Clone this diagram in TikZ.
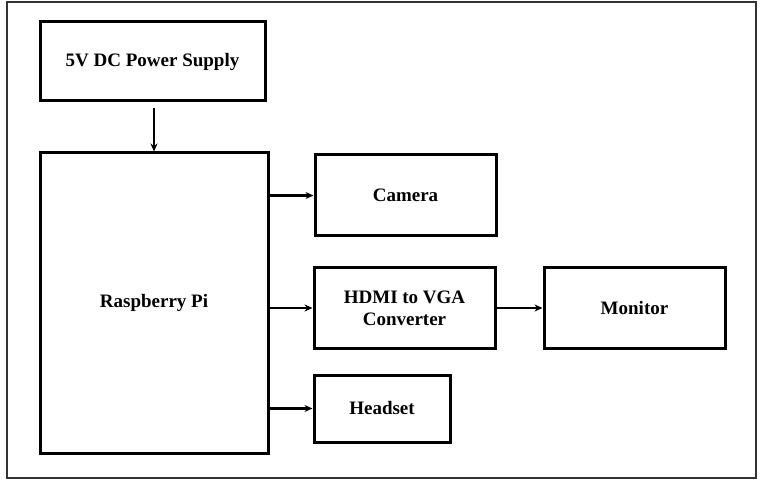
\documentclass[tikz,border=0pt]{standalone}
\usepackage{fontspec}
\setmainfont{Liberation Serif}
\usepackage{tikz}
\usetikzlibrary{positioning,arrows.meta}

\begin{document}
\begin{tikzpicture}[
  x=1pt, y=-1pt,
  >={Stealth[length=8pt,width=7pt]},
  box/.style={draw, line width=3pt, align=center, inner sep=0pt,
    font=\fontsize{19}{22}\selectfont\bfseries},
  link/.style={->, line width=2.6pt}
]
\useasboundingbox (0,0) rectangle (761,481);
\draw[line width=1.5pt, black!80] (7,2) rectangle (756,478);

\node[box, minimum width=225pt, minimum height=79pt] (power) at (152.5,61.5) {5V DC Power Supply};
\node[box, minimum width=228pt, minimum height=300pt] (pi) at (154,303) {Raspberry Pi};
\node[box, minimum width=181pt, minimum height=81pt] (camera) at (405.5,195.5) {Camera};
\node[box, minimum width=181pt, minimum height=80pt] (hdmi) at (404.5,308) {HDMI to VGA\\Converter};
\node[box, minimum width=181pt, minimum height=80pt, right=46pt of hdmi] (monitor) {Monitor};
\node[box, minimum width=136pt, minimum height=67pt] (headset) at (382,408.5) {Headset};

\draw[link, shorten <=6pt] (power.south -| pi.north) -- (pi.north);
\draw[link] (pi.east |- camera.west) -- (camera.west);
\draw[link] (pi.east |- hdmi.west) -- (hdmi.west);
\draw[link] (hdmi.east) -- (monitor.west);
\draw[link] (pi.east |- headset.west) -- (headset.west);
\end{tikzpicture}
\end{document}
